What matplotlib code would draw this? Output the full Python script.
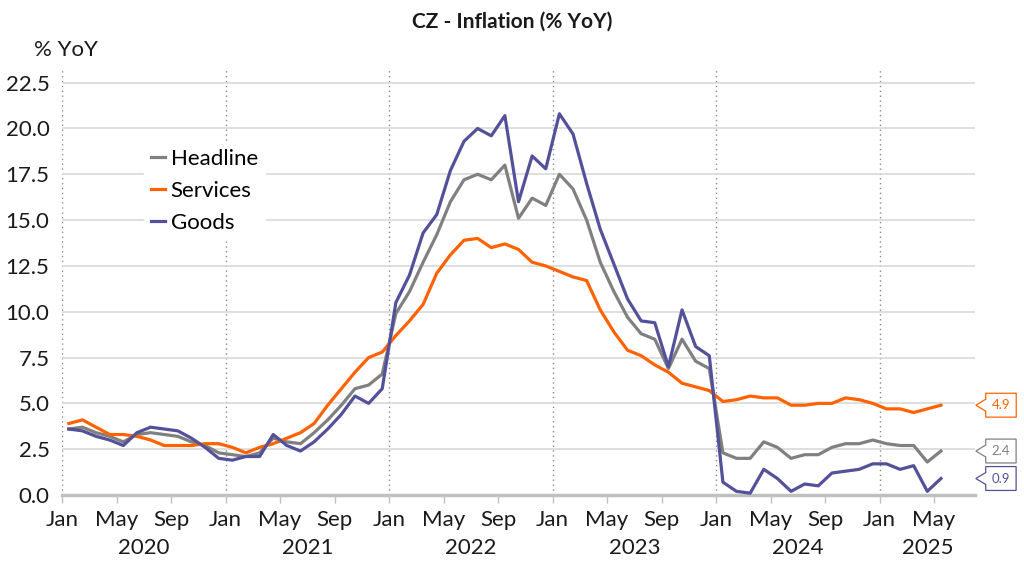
import matplotlib
matplotlib.use("Agg")
import matplotlib.pyplot as plt
from matplotlib.path import Path
from matplotlib.transforms import blended_transform_factory

plt.rcParams['font.family'] = ['Lato', 'DejaVu Sans']

# monthly data Jan 2020 - May 2025
headline = [3.6, 3.7, 3.4, 3.2, 2.9, 3.3, 3.4, 3.3, 3.2, 2.9, 2.7, 2.3,
            2.2, 2.1, 2.3, 3.1, 2.9, 2.8, 3.4, 4.1, 4.9, 5.8, 6.0, 6.6,
            9.9, 11.1, 12.7, 14.2, 16.0, 17.2, 17.5, 17.2, 18.0, 15.1, 16.2, 15.8,
            17.5, 16.7, 15.0, 12.7, 11.1, 9.7, 8.8, 8.5, 6.9, 8.5, 7.3, 6.9,
            2.3, 2.0, 2.0, 2.9, 2.6, 2.0, 2.2, 2.2, 2.6, 2.8, 2.8, 3.0,
            2.8, 2.7, 2.7, 1.8, 2.4]
services = [3.9, 4.1, 3.7, 3.3, 3.3, 3.2, 3.0, 2.7, 2.7, 2.7, 2.8, 2.8,
            2.6, 2.3, 2.6, 2.8, 3.1, 3.4, 3.9, 4.9, 5.8, 6.7, 7.5, 7.8,
            8.7, 9.5, 10.4, 12.1, 13.1, 13.9, 14.0, 13.5, 13.7, 13.4, 12.7, 12.5,
            12.2, 11.9, 11.7, 10.1, 8.9, 7.9, 7.6, 7.1, 6.7, 6.1, 5.9, 5.7,
            5.1, 5.2, 5.4, 5.3, 5.3, 4.9, 4.9, 5.0, 5.0, 5.3, 5.2, 5.0,
            4.7, 4.7, 4.5, 4.7, 4.9]
goods = [3.6, 3.5, 3.2, 3.0, 2.7, 3.4, 3.7, 3.6, 3.5, 3.1, 2.6, 2.0,
         1.9, 2.1, 2.1, 3.3, 2.7, 2.4, 2.9, 3.6, 4.4, 5.4, 5.0, 5.8,
         10.5, 12.0, 14.3, 15.3, 17.7, 19.3, 20.0, 19.6, 20.7, 16.0, 18.5, 17.8,
         20.8, 19.7, 17.0, 14.5, 12.6, 10.7, 9.5, 9.4, 7.0, 10.1, 8.1, 7.6,
         0.7, 0.2, 0.1, 1.4, 0.9, 0.2, 0.6, 0.5, 1.2, 1.3, 1.4, 1.7,
         1.7, 1.4, 1.6, 0.2, 0.9]
years = ['2020', '2021', '2022', '2023', '2024', '2025']
month_labels = ['Jan', 'May', 'Sep']

c_head = '#808080'
c_serv = '#FF6200'
c_good = '#525199'
txt = '#1a1a1a'

n = len(headline)
xs = [i + 0.5 for i in range(n)]
xmax = 67

fig = plt.figure(figsize=(10.24, 5.76), dpi=100)
ax = fig.add_axes([62/1024, 1-495/576, (975-62)/1024, (495-68)/576])

ax.plot(xs, headline, color=c_head, lw=2.3, label='Headline', zorder=3)
ax.plot(xs, services, color=c_serv, lw=2.3, label='Services', zorder=3)
ax.plot(xs, goods, color=c_good, lw=2.3, label='Goods', zorder=3)

ax.set_xlim(0, xmax)
ax.set_ylim(0, 23.3)
ax.set_yticks([i * 2.5 for i in range(10)])
ax.set_yticklabels(['%.1f' % (i * 2.5) for i in range(10)], fontsize=16, color=txt)
ax.grid(axis='y', color='#d9d9d9', lw=1.2, zorder=0)
for k in range(len(years)):
    ax.axvline(k * 12, color='#888888', lw=1, ls=(0, (1, 2.5)), zorder=1)

ticks = list(range(0, n, 4))
ax.set_xticks(ticks)
ax.set_xticklabels([month_labels[(t % 12) // 4] for t in ticks], fontsize=16, color=txt)
ax.tick_params(axis='x', length=6, width=1, color='#c0c0c0', pad=5)
ax.tick_params(axis='y', length=0, pad=9)

for s in ['top', 'right', 'left']:
    ax.spines[s].set_visible(False)
ax.spines['bottom'].set_color('#c0c0c0')
ax.spines['bottom'].set_linewidth(2.5)

tr = blended_transform_factory(ax.transData, ax.transAxes)
for k, y in enumerate(years):
    mid = (k * 12 + min(k * 12 + 12, xmax)) / 2
    ax.text(mid, -0.125, y, transform=tr, ha='center', va='center', fontsize=16, color=txt)

fig.text(34/1024, 1-50/576, '% YoY', ha='left', va='center', fontsize=16, color=txt)
fig.text(0.5, 1-22/576, 'CZ - Inflation (% YoY)', ha='center', va='center', fontsize=15,
         fontweight='bold', color=txt)

leg = ax.legend(loc='upper left', bbox_to_anchor=(144/1024, 1-142/576), bbox_transform=fig.transFigure,
                fontsize=16, frameon=True, handlelength=0.65, handletextpad=0.25, labelspacing=0.55,
                borderpad=0.3, borderaxespad=0)
leg.get_frame().set_facecolor('white')
leg.get_frame().set_edgecolor('white')
leg.get_frame().set_alpha(1)
leg.set_zorder(5)


def callout(x0, y0, width, height, mutation_size):
    p = 0.45 * mutation_size
    a = 0.75 * mutation_size
    x0, y0 = x0 - p, y0 - p
    w, h = width + 2 * p, height + 2 * p
    verts = [(x0, y0), (x0 + w, y0), (x0 + w, y0 + h), (x0, y0 + h),
             (x0, y0 + h * 0.75), (x0 - a, y0 + h * 0.5), (x0, y0 + h * 0.25), (x0, y0)]
    return Path(verts, closed=True)


tr2 = blended_transform_factory(ax.transAxes, ax.transData)
for vals, col in [(services, c_serv), (headline, c_head), (goods, c_good)]:
    ax.annotate('%.1f' % vals[-1], xy=(1.0, vals[-1]), xycoords=tr2, xytext=(12, 0),
                textcoords='offset points', ha='left', va='center', fontsize=9.5, color=col,
                bbox=dict(boxstyle=callout, fc='white', ec=col, lw=0.9),
                annotation_clip=False)

fig.savefig('out.png', dpi=100)
